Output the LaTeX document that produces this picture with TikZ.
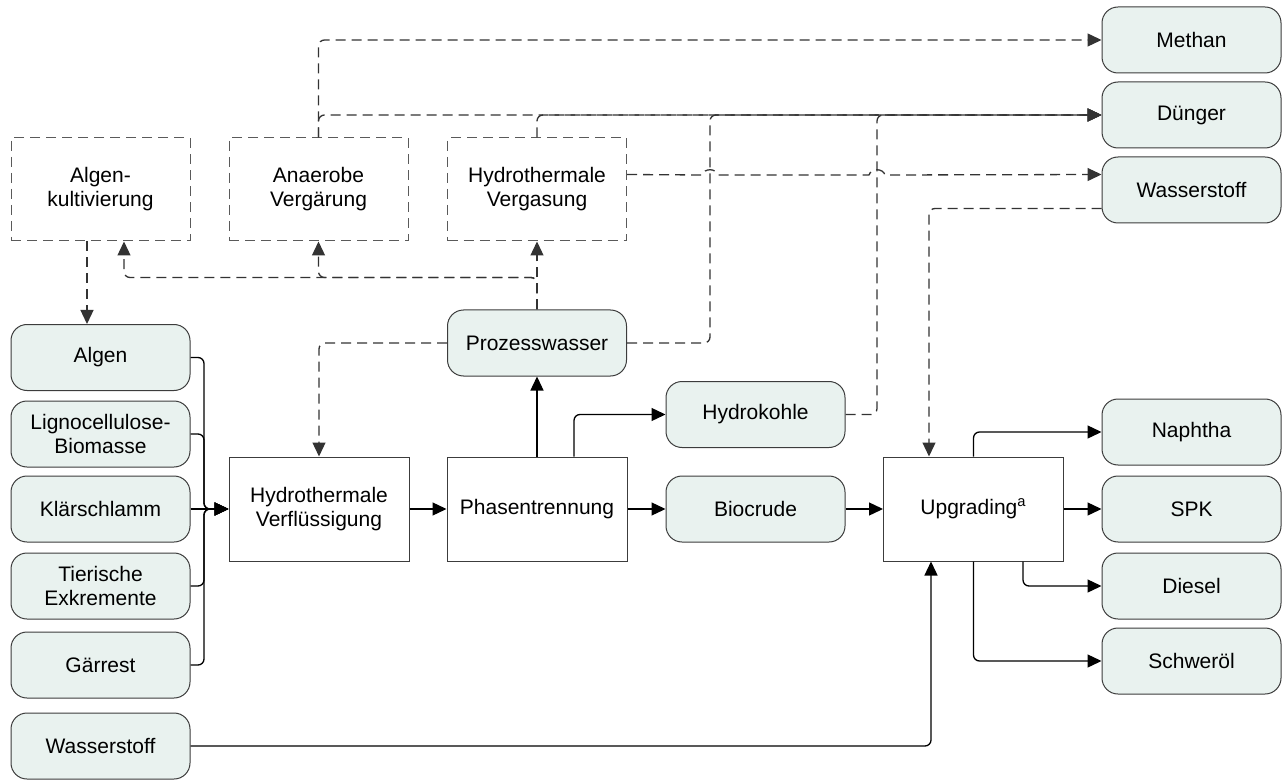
\documentclass[tikz,border=0pt]{standalone}
\usepackage{fontspec}
\setmainfont{Liberation Sans}
\usepackage{tikz}
\usetikzlibrary{arrows.meta,calc}

\definecolor{mint}{HTML}{E9F2EF}
\definecolor{rim}{HTML}{3C3C3C}
\definecolor{dashrim}{HTML}{5A5A5A}

\tikzset{
  every node/.style={font=\fontsize{10.5}{12}\selectfont},
  stream/.style={draw=rim, fill=mint, rounded corners=8pt, line width=0.5pt,
    minimum width=89.5pt, minimum height=33pt, align=center},
  unit/.style={draw=rim, line width=0.5pt, minimum width=90pt, minimum height=52pt, align=center},
  option/.style={draw=dashrim, line width=0.5pt, dash pattern=on 5pt off 3pt,
    minimum width=89.5pt, minimum height=51.5pt, align=center},
  flow/.style={draw=black, line width=0.65pt, rounded corners=3pt, -{Triangle[length=7pt,width=6.5pt]}},
  side/.style={flow, draw=black!80, dash pattern=on 5pt off 3pt},
}

\begin{document}
\begin{tikzpicture}[x=0.5pt, y=-0.5pt]
    \useasboundingbox (0,0) rectangle (1288,780);

    % optional processes
    \node[option] (kult) at (100.5,189.5) {Algen-\\kultivierung};
    \node[option] (anaerob) at (318.5,189.5) {Anaerobe\\Vergärung};
    \node[option] (hvg) at (537,189.5) {Hydrothermale\\Vergasung};

    % feedstocks
    \node[stream] (algen) at (100.5,357.5) {Algen};
    \node[stream] (ligno) at (100.5,434) {Lignocellulose-\\Biomasse};
    \node[stream] (klaer) at (100.5,509) {Klärschlamm};
    \node[stream] (tier) at (100.5,586) {Tierische\\Exkremente};
    \node[stream] (gaer) at (100.5,665) {Gärrest};
    \node[stream] (h2feed) at (100.5,746) {Wasserstoff};

    % main chain
    \node[unit] (htl) at (319,509) {Hydrothermale\\Verflüssigung};
    \node[unit] (phase) at (537,509) {Phasentrennung};
    \node[stream] (pw) at (537,343) {Prozesswasser};
    \node[stream] (hk) at (755.5,414.5) {Hydrokohle};
    \node[stream] (bio) at (755.5,509) {Biocrude};
    \node[unit] (upg) at (973.5,509) {Upgrading\textsuperscript{a}};

    % products
    \node[stream] (methan) at (1191.5,40) {Methan};
    \node[stream] (duenger) at (1191.5,115) {Dünger};
    \node[stream] (h2top) at (1191.5,190) {Wasserstoff};
    \node[stream] (naph) at (1191.5,432) {Naphtha};
    \node[stream] (spk) at (1191.5,509) {SPK};
    \node[stream] (diesel) at (1191.5,586) {Diesel};
    \node[stream] (schwer) at (1191.5,661) {Schweröl};

    % helper points
    \coordinate (bus) at (204,509);
    \coordinate (h2in) at ($(h2top.north west)+(0,18)$);
    \coordinate (h2out) at ($(h2top.south west)+(0,-15)$);
    \coordinate (jmpA) at (710,175);
    \coordinate (jmpB) at (877,175);

    % feedstocks into HTL
    \draw[flow] (algen.east) -- (algen.east -| bus) -- (bus) -- (htl.west);
    \draw[flow] (ligno.east) -- (ligno.east -| bus) -- (bus) -- (htl.west);
    \draw[flow] (klaer.east) -- (htl.west);
    \draw[flow] (tier.east) -- (tier.east -| bus) -- (bus) -- (htl.west);
    \draw[flow] (gaer.east) -- (gaer.east -| bus) -- (bus) -- (htl.west);

    \draw[flow] (htl.east) -- (phase.west);
    \draw[flow] (phase.north) -- (pw.south);
    \draw[flow] ($(phase.north)+(37,0)$) |- (hk.west);
    \draw[flow] (phase.east) -- (bio.west);
    \draw[flow] (bio.east) -- (upg.west);
    \draw[flow] (h2feed.east) -| ($(upg.south)+(-42.5,0)$);

    % upgrading products
    \draw[flow] (upg.north) |- (naph.west);
    \draw[flow] (upg.east) -- (spk.west);
    \draw[flow] ($(upg.south)+(49.5,0)$) |- (diesel.west);
    \draw[flow] (upg.south) |- (schwer.west);

    % process water routes
    \draw[side] (pw.west) -| (htl.north);
    \draw[side] (pw.north) -- (hvg.south);
    \draw[side] (pw.north) -- ++(0,-32) -| (anaerob.south);
    \draw[side] (pw.north) -- ++(0,-32) -| ($(kult.south)+(23.5,0)$);
    \draw[side] ($(kult.south)+(-13.5,0)$) -- ($(algen.north)+(-13.5,0)$);

    % side products
    \draw[side] (anaerob.north) |- (methan.west);
    \draw[side] (anaerob.north) |- (duenger.west);
    \draw[side] (hvg.north) |- (duenger.west);
    \draw[side] (pw.east) -| (jmpA |- duenger.west) -- (duenger.west);
    \draw[side] (hk.east) -| (jmpB |- duenger.west) -- (duenger.west);
    \draw[side, rounded corners=0pt] (hvg.east |- h2in) -- ($(jmpA)+(-8,0)$)
        .. controls +(2,-7) and +(-2,-7) .. ($(jmpA)+(8,0)$)
        -- ($(jmpB)+(-8,0)$)
        .. controls +(2,-7) and +(-2,-7) .. ($(jmpB)+(8,0)$) -- (h2in);
    \draw[side] (h2out) -| ($(upg.north)+(-44.5,0)$);
\end{tikzpicture}
\end{document}
